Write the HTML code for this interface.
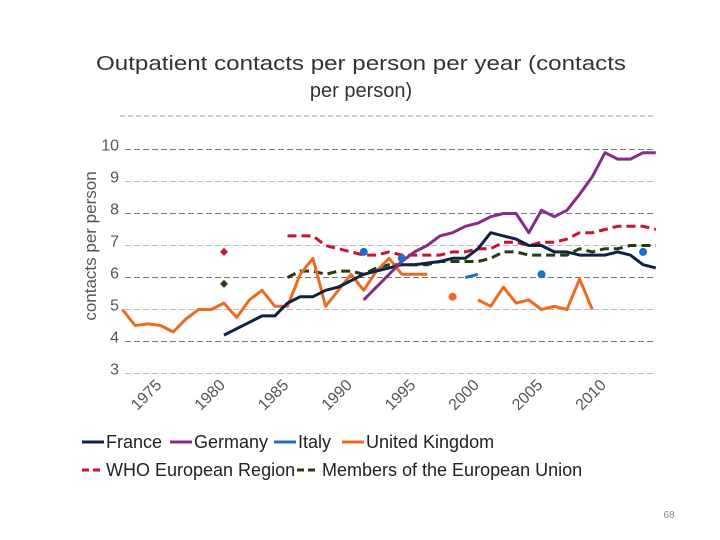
<!DOCTYPE html>
<html><head><meta charset="utf-8"><style>
body{margin:0;background:#fff;width:720px;height:540px;overflow:hidden}
svg{display:block;font-family:"Liberation Sans","DejaVu Sans",sans-serif}
</style></head><body>
<svg id="chart" width="720" height="540" viewBox="0 0 720 540">
<text x="361" y="70" font-size="20" fill="#333" text-anchor="middle" textLength="530" lengthAdjust="spacingAndGlyphs">Outpatient contacts per person per year (contacts</text>
<text x="361" y="97" font-size="20" fill="#333" text-anchor="middle">per person)</text>
<line x1="120" y1="116" x2="655" y2="116" stroke="#999" stroke-dasharray="5,3"/>
<text transform="translate(96,246) rotate(-90)" font-size="17" fill="#555" text-anchor="middle">contacts per person</text>
<g id="grid"></g><g id="series"></g>
<g font-size="18" fill="#222">
<line x1="82" y1="442" x2="104" y2="442" stroke="#0d2345" stroke-width="3"/>
<text x="106" y="448">France</text>
<line x1="170" y1="442" x2="192" y2="442" stroke="#8a2a8a" stroke-width="3"/>
<text x="194" y="448">Germany</text>
<line x1="274" y1="442" x2="296" y2="442" stroke="#1f6fc9" stroke-width="3"/>
<text x="298" y="448">Italy</text>
<line x1="342" y1="442" x2="364" y2="442" stroke="#ee6a22" stroke-width="3"/>
<text x="366" y="448">United Kingdom</text>
<line x1="82" y1="470" x2="102" y2="470" stroke="#d0112b" stroke-width="3" stroke-dasharray="7,4"/>
<text x="106" y="476">WHO European Region</text>
<line x1="297" y1="470" x2="317" y2="470" stroke="#223d10" stroke-width="3" stroke-dasharray="7,4"/>
<text x="322" y="476">Members of the European Union</text>
</g>
<text x="669" y="518" font-size="10" fill="#888" text-anchor="middle">68</text>
</svg>
<script>
const yTicks=[3,4,5,6,7,8,9,10];
const xTicks=[1975,1980,1985,1990,1995,2000,2005,2010];
const ukYears=[1972,1973,1974,1975,1976,1977,1978,1979,1980,1981,1982,1983,1984,1985,1986,1987,1988,1989,1990,1991,1992,1993,1994,1995,1996];
const ukVals=[5.0,4.5,4.55,4.5,4.3,4.7,5.0,5.0,5.2,4.75,5.3,5.6,5.1,5.1,6.1,6.6,5.1,5.6,6.1,5.6,6.2,6.6,6.1,6.1,6.1];
const uk2Years=[2000,2001,2002,2003,2004,2005,2006,2007,2008,2009];
const uk2Vals=[5.3,5.1,5.7,5.2,5.3,5.0,5.1,5.0,5.95,5.0];
const ukDotYears=[1998];const ukDotVals=[5.4];
const frYears=[1980,1981,1982,1983,1984,1985,1986,1987,1988,1989,1990,1991,1992,1993,1994,1995,1996,1997,1998,1999,2000,2001,2002,2003,2004,2005,2006,2007,2008,2009,2010,2011,2012,2013,2014];
const frVals=[4.2,4.4,4.6,4.8,4.8,5.2,5.4,5.4,5.6,5.7,5.9,6.1,6.2,6.3,6.4,6.4,6.45,6.5,6.6,6.6,6.9,7.4,7.3,7.2,7.0,7.0,6.8,6.8,6.7,6.7,6.7,6.8,6.7,6.4,6.3];
const deYears=[1991,1992,1993,1994,1995,1996,1997,1998,1999,2000,2001,2002,2003,2004,2005,2006,2007,2008,2009,2010,2011,2012,2013,2014];
const deVals=[5.3,5.7,6.1,6.5,6.8,7.0,7.3,7.4,7.6,7.7,7.9,8.0,8.0,7.4,8.1,7.9,8.1,8.6,9.15,9.9,9.7,9.7,9.9,9.9];
const itYears=[1999,2000];const itVals=[6.0,6.1];
const itDotYears=[1991,1994,2005,2013];const itDotVals=[6.8,6.6,6.1,6.8];
const whoYears=[1985,1986,1987,1988,1989,1990,1991,1992,1993,1994,1995,1996,1997,1998,1999,2000,2001,2002,2003,2004,2005,2006,2007,2008,2009,2010,2011,2012,2013,2014];
const whoVals=[7.3,7.3,7.3,7.0,6.9,6.8,6.7,6.7,6.8,6.7,6.7,6.7,6.7,6.8,6.8,6.9,6.9,7.1,7.1,7.0,7.1,7.1,7.2,7.4,7.4,7.5,7.6,7.6,7.6,7.5];
const whoDotYears=[1980];const whoDotVals=[6.8];
const euYears=whoYears;
const euVals=[6.0,6.2,6.2,6.1,6.2,6.2,6.1,6.3,6.4,6.4,6.4,6.4,6.5,6.5,6.5,6.5,6.6,6.8,6.8,6.7,6.7,6.7,6.7,6.9,6.8,6.9,6.9,7.0,7.0,7.0];
const euDotYears=[1980];const euDotVals=[5.8];

const NS="http://www.w3.org/2000/svg";
const X=y=>224+(y-1980)*12.7;
const Y=v=>149.5+(10-v)*32;
function mk(tag,attrs,parent){const e=document.createElementNS(NS,tag);for(const k in attrs)e.setAttribute(k,attrs[k]);parent.appendChild(e);return e;}
const grid=document.getElementById('grid'),ser=document.getElementById('series');
yTicks.forEach(t=>{
  const l=mk('line',{x1:125,x2:655,y1:Y(t),y2:Y(t),stroke:(t%2===0?'#777':'#bbb'),'stroke-dasharray':'6,3'},grid);
  
  
  const tx=mk('text',{x:119,y:Y(t)+1,'font-size':16,fill:'#555','text-anchor':'end'},grid);tx.textContent=t;
  
  
});
xTicks.forEach(t=>{
  const tx=mk('text',{transform:`translate(${X(t)+2},386) rotate(-45)`,'font-size':16,fill:'#555','text-anchor':'end'},grid);tx.textContent=t;
  
  
});
function line(xs,vs,color,dash,name){
  const p=mk('polyline',{points:xs.map((y,i)=>X(y)+','+Y(vs[i])).join(' '),fill:'none',stroke:color,'stroke-width':3,'stroke-linejoin':'round'},ser);
  if(dash)p.setAttribute('stroke-dasharray',dash);
  
  
}
function dots(xs,vs,color,shape,name){
  xs.forEach((y,i)=>{
    let e;
    if(shape==='d'){const cx=X(y),cy=Y(vs[i]);e=mk('polygon',{points:`${cx},${cy-4} ${cx+4},${cy} ${cx},${cy+4} ${cx-4},${cy}`,fill:color},ser);}
    else e=mk('circle',{cx:X(y),cy:Y(vs[i]),r:4,fill:color},ser);
    
    
  });
}
line(euYears,euVals,'#223d10','9,5','eu-members-line');
line(whoYears,whoVals,'#d0112b','9,5','who-region-line');
line(ukYears,ukVals,'#ee6a22',null,'uk-line');
line(uk2Years,uk2Vals,'#ee6a22',null,'uk-line-2');
line(frYears,frVals,'#0d2345',null,'france-line');
line(deYears,deVals,'#8a2a8a',null,'germany-line');
line(itYears,itVals,'#1f6fc9',null,'italy-line');
dots(ukDotYears,ukDotVals,'#ee6a22','c','uk-point');
dots(itDotYears,itDotVals,'#1f6fc9','c','italy-point');
dots(whoDotYears,whoDotVals,'#d0112b','d','who-point');
dots(euDotYears,euDotVals,'#223d10','d','eu-point');
</script>
</body></html>
